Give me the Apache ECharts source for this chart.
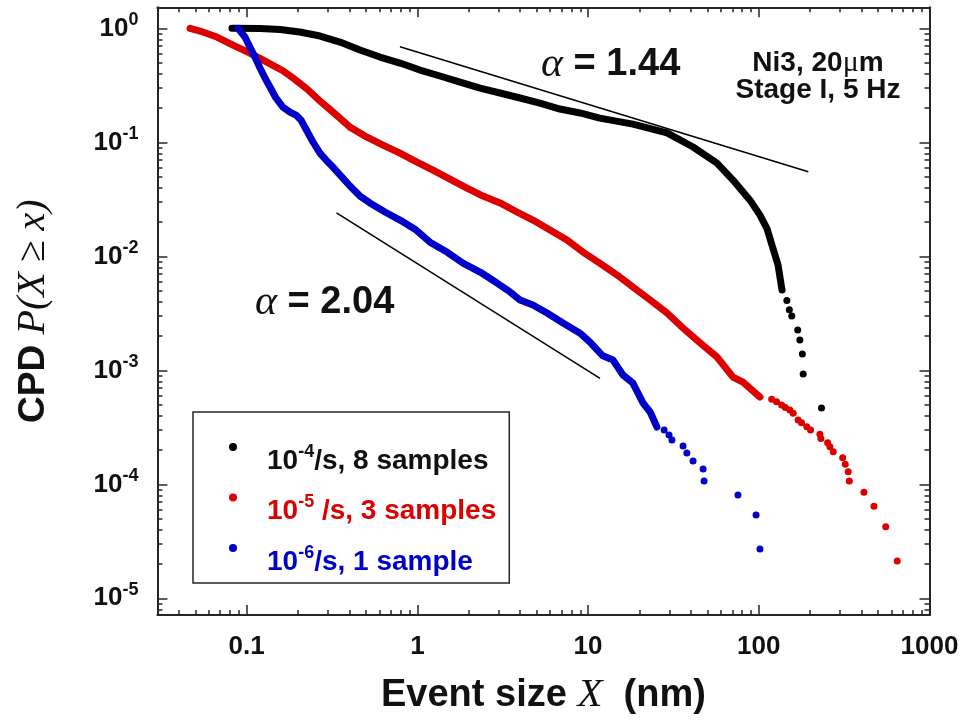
<!DOCTYPE html>
<html><head><meta charset="utf-8">
<script src="https://cdn.jsdelivr.net/npm/echarts@6/dist/echarts.min.js"></script>
<style>html,body{margin:0;padding:0;background:#fff}#c{width:963px;height:723px}</style>
</head><body><div id="c"></div>
<script>
// ---------- data ----------
const seriesNames = ['10^-4/s, 8 samples', '10^-5 /s, 3 samples', '10^-6/s, 1 sample'];
const xMajorTicks = [0.1, 1, 10, 100, 1000];
const xTickLabels = ['0.1', '1', '10', '100', '1000'];
const yMajorTicks = [1, 1e-1, 1e-2, 1e-3, 1e-4, 1e-5];
const yTickExponents = ['0', '-1', '-2', '-3', '-4', '-5'];

const blackDense = [[0.082,1.0],[0.12,0.995],[0.157,0.976],[0.205,0.928],[0.269,0.856],[0.352,0.758],[0.461,0.645],[0.604,0.56],[0.791,0.496],[1.035,0.431],[1.357,0.382],[1.778,0.338],[2.33,0.299],[3.05,0.271],[3.99,0.245],[5.22,0.221],[6.84,0.196],[8.97,0.181],[11.7,0.163],[18.3,0.1445],[29.0,0.121],[41.2,0.091],[56.9,0.0658],[70.6,0.0467],[88.8,0.0311],[101.6,0.023],[111.7,0.0175],[121,0.0118],[129.7,0.0084],[133,0.00658],[136.8,0.00506]];
const blackSparse = [[146,0.0041],[151,0.0034],[156,0.003],[169,0.00226],[174,0.00185],[180,0.00139],[182,0.00093],[233,0.000468]];

const redDense = [[0.0466,1.0],[0.0532,0.947],[0.067,0.839],[0.0832,0.714],[0.1045,0.607],[0.1315,0.506],[0.163,0.425],[0.19,0.36],[0.225,0.295],[0.265,0.235],[0.32,0.1845],[0.403,0.136],[0.507,0.111],[0.629,0.0947],[0.791,0.0805],[0.995,0.0671],[1.234,0.0571],[1.552,0.0476],[1.953,0.0397],[2.423,0.0338],[3.05,0.0294],[3.83,0.0245],[4.75,0.0208],[5.98,0.017],[7.52,0.0139],[9.33,0.0109],[11.7,0.00873],[14.8,0.00685],[18.3,0.00538],[23.1,0.00414],[29.0,0.00318],[37.0,0.00226],[45.3,0.00174],[56.9,0.00131],[70.6,0.000873],[80.8,0.000789],[101.6,0.000583]];
const redSparse = [[119,0.000557],[127,0.000531],[136,0.000497],[143,0.000473],[152,0.000449],[159,0.00042],[170,0.000367],[178,0.000347],[191,0.00032],[201,0.000299],[228,0.000275],[231,0.000253],[253,0.000232],[261,0.000214],[273,0.000193],[310,0.000171],[321,0.00015],[334,0.000129],[339,0.000107],[413,0.0000851],[473,0.0000641],[554,0.0000425],[647,0.0000212]];

const blueDense = [[0.0889,1.0],[0.0977,0.839],[0.1045,0.685],[0.1118,0.56],[0.1197,0.4485],[0.128,0.3665],[0.1369,0.3055],[0.1484,0.245],[0.163,0.204],[0.1794,0.1845],[0.1945,0.1735],[0.208,0.157],[0.2255,0.1257],[0.2445,0.1007],[0.2687,0.0805],[0.2953,0.0686],[0.32,0.0607],[0.3615,0.0496],[0.403,0.0414],[0.461,0.0338],[0.527,0.0294],[0.646,0.0245],[0.791,0.0208],[0.968,0.0173],[1.186,0.0133],[1.49,0.0109],[1.85,0.00873],[2.33,0.00728],[2.93,0.00583],[3.49,0.00487],[3.99,0.00414],[4.75,0.00374],[5.75,0.00318],[7.13,0.0026],[8.97,0.00212],[10.26,0.00177],[11.3,0.00151],[12.2,0.00134],[14.0,0.00123],[16.0,0.00091],[18.3,0.000773],[21.0,0.000516],[23.1,0.000431],[25.3,0.000318]];
const blueSparse = [[27.9,0.000299],[29.8,0.000271],[31.0,0.000245],[36.0,0.000217],[37.9,0.000188],[41.2,0.00016],[47.2,0.000136],[47.8,0.000107],[75.5,0.0000806],[96.4,0.0000538],[101.6,0.0000271]];

const guide144 = [[0.791,0.69],[195,0.0552]];
const guide204 = [[0.336,0.0241],[11.75,0.00085]];

// ---------- style ----------
const SANS = "'Liberation Sans', Arial, sans-serif";
const SERIF = "'Liberation Serif', 'Times New Roman', serif";
const FRAME = '#262626';
const TXT = '#111111';
const COLORS = ['#000000', '#dc0000', '#0000c8'];
const xMin = 0.03, xMax = 1000, yMin = 7.14e-6, yMax = 1.53;

function minorTicks(majors, lo, hi) {
  const bases = majors.concat([Math.min.apply(null, majors) / 10]);
  const out = [];
  bases.forEach(b => { for (let k = 2; k <= 9; k++) { const v = b * k; if (v > lo && v < hi) out.push(v); } });
  return out;
}
const xMinorTicks = minorTicks(xMajorTicks, xMin, xMax);
const yMinorTicks = minorTicks(yMajorTicks, yMin, yMax);

function idxOf(arr, v) {
  const lv = Math.log10(v);
  for (let i = 0; i < arr.length; i++) if (Math.abs(Math.log10(arr[i]) - lv) < 1e-6) return i;
  return -1;
}

function makeAxis(dim, kind, position) {
  const isX = dim === 'x';
  const majors = isX ? xMajorTicks : yMajorTicks;
  const minors = isX ? xMinorTicks : yMinorTicks;
  const major = kind === 'major';
  return {
    type: 'log', logBase: 10, position: position,
    min: isX ? xMin : yMin, max: isX ? xMax : yMax,
    splitLine: { show: false }, minorTick: { show: false }, minorSplitLine: { show: false },
    axisLine: { show: major, onZero: false, lineStyle: { color: FRAME, width: 2 } },
    axisTick: { show: true, inside: true, length: major ? 10 : 5, customValues: major ? majors : minors,
      lineStyle: { color: FRAME, width: 1.5 } },
    axisLabel: { show: false },
    axisPointer: { show: false },
    silent: true
  };
}

const xAxes = [makeAxis('x','major','bottom'), makeAxis('x','minor','bottom'), makeAxis('x','major','top'), makeAxis('x','minor','top')];
const yAxes = [makeAxis('y','major','left'), makeAxis('y','minor','left'), makeAxis('y','major','right'), makeAxis('y','minor','right')];

Object.assign(xAxes[0], {
  axisLabel: { show: true, customValues: xMajorTicks, margin: 19,
    formatter: v => { const i = idxOf(xMajorTicks, v); return i < 0 ? '' : xTickLabels[i]; },
    fontSize: 26, fontWeight: 'bold', fontFamily: SANS, color: TXT },
  name: '{a|Event size }{i|X}{a|  (nm)}', nameLocation: 'middle', nameGap: 60, nameMoveOverlap: false,
  nameTextStyle: { rich: {
    a: { fontSize: 38, fontWeight: 'bold', fontFamily: SANS, color: TXT },
    i: { fontSize: 41, fontStyle: 'italic', fontFamily: SERIF, color: TXT } } }
});
Object.assign(yAxes[0], {
  axisLabel: { show: true, customValues: yMajorTicks, margin: 19,
    formatter: v => { const i = idxOf(yMajorTicks, v); return i < 0 ? '' : '{b|10}{s|' + yTickExponents[i] + '}'; },
    rich: {
      b: { fontSize: 26, fontWeight: 'bold', fontFamily: SANS, color: TXT, lineHeight: 34 },
      s: { fontSize: 18, fontWeight: 'bold', fontFamily: SANS, color: TXT, lineHeight: 17, verticalAlign: 'top' } } },
  name: '{a|CPD }{i|P(X ≥ x)}', nameLocation: 'middle', nameGap: 104, nameMoveOverlap: false,
  nameTextStyle: { rich: {
    a: { fontSize: 37, fontWeight: 'bold', fontFamily: SANS, color: TXT },
    i: { fontSize: 40, fontStyle: 'italic', fontFamily: SERIF, color: TXT } } }
});

// legend text: every token has the same total height, so the superscript is raised only by its padding
function legendRich(color) {
  return {
    b: { fontSize: 28, fontWeight: 'bold', fontFamily: SANS, color: color, padding: [28, 0, 0, 0] },
    s: { fontSize: 18, fontWeight: 'bold', fontFamily: SANS, color: color, padding: [24, 0, 14, 0] }
  };
}
function legendText(name) {
  const m = name.match(/^10\^(-\d)(.*)$/);
  return '{b|10}{s|' + m[1] + '}{b|' + m[2] + '}';
}

const series = [];
const dense = [blackDense, redDense, blueDense];
const sparse = [blackSparse, redSparse, blueSparse];
for (let i = 0; i < 3; i++) {
  series.push({ name: seriesNames[i], type: 'line', data: dense[i], symbol: 'none', silent: true,
    lineStyle: { color: COLORS[i], width: 7, cap: 'round', join: 'round' }, itemStyle: { color: COLORS[i] }, z: 3 + i });
  series.push({ name: seriesNames[i], type: 'scatter', data: sparse[i], symbol: 'circle', symbolSize: 7, silent: true,
    itemStyle: { color: COLORS[i], opacity: 1 }, z: 3 + i });
}
[guide144, guide204].forEach(g => series.push({ type: 'line', data: g, symbol: 'none', silent: true,
  lineStyle: { color: '#000', width: 1.5 }, z: 10 }));

const annoRich = {
  g: { fontSize: 42, fontStyle: 'italic', fontFamily: SERIF, fill: TXT },
  a: { fontSize: 38, fontWeight: 'bold', fontFamily: SANS, fill: TXT }
};
const noteRich = {
  a: { fontSize: 28, fontWeight: 'bold', fontFamily: SANS, fill: TXT },
  m: { fontSize: 30, fontFamily: SERIF, fill: TXT }
};

const chart = echarts.init(document.getElementById('c'), null, { renderer: 'canvas' });
chart.setOption({
  animation: false,
  backgroundColor: '#ffffff',
  grid: { left: 157.4, right: 33.5, top: 7.3, bottom: 108, containLabel: false, outerBoundsMode: 'none' },
  xAxis: xAxes,
  yAxis: yAxes,
  legend: {
    orient: 'vertical', left: 193, top: 412, padding: [31, 13, 7, 36], itemGap: 18.5,
    itemWidth: 58, itemHeight: 8, borderColor: FRAME, borderWidth: 1.5, selectedMode: false,
    formatter: legendText,
    data: seriesNames.map((n, i) => ({ name: n, icon: 'circle', itemStyle: { color: COLORS[i] },
      textStyle: { color: COLORS[i] === '#000000' ? TXT : COLORS[i], rich: legendRich(COLORS[i] === '#000000' ? TXT : COLORS[i]) } }))
  },
  graphic: [
    { type: 'text', x: 541, y: 65, silent: true, style: { text: '{g|α}{a| = 1.44}', rich: annoRich, verticalAlign: 'middle', align: 'left' } },
    { type: 'text', x: 255, y: 303, silent: true, style: { text: '{g|α}{a| = 2.04}', rich: annoRich, verticalAlign: 'middle', align: 'left' } },
    { type: 'text', x: 818, y: 63, silent: true, style: { text: '{a|Ni3, 20}{m|μ}{a|m}', rich: noteRich, verticalAlign: 'middle', align: 'center' } },
    { type: 'text', x: 818, y: 90, silent: true, style: { text: '{a|Stage I, 5 Hz}', rich: noteRich, verticalAlign: 'middle', align: 'center' } }
  ],
  series: series
});
</script></body></html>
